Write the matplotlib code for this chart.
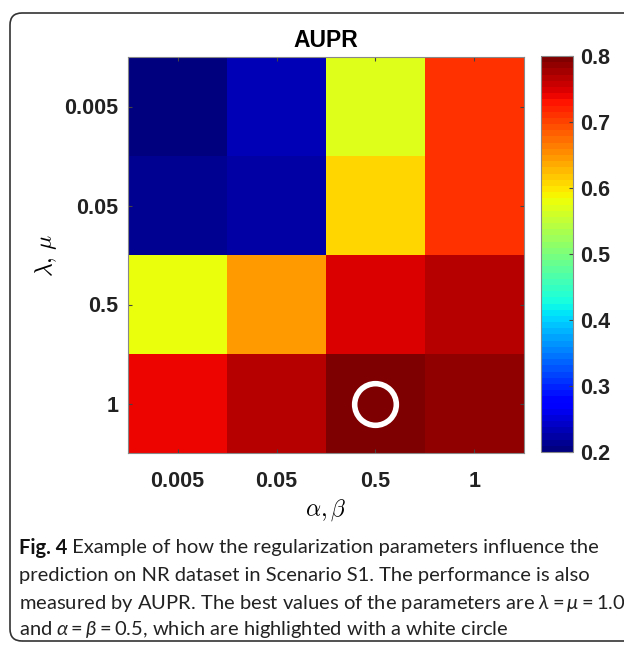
import matplotlib
matplotlib.use("Agg")
import matplotlib.pyplot as plt
from matplotlib.patches import FancyBboxPatch
from matplotlib.transforms import IdentityTransform
import numpy as np

# AUPR grid: rows = lambda, mu ; columns = alpha, beta
lam_labels = ['0.005', '0.05', '0.5', '1']
alpha_labels = ['0.005', '0.05', '0.5', '1']
aupr = np.array([
    [0.200, 0.231, 0.572, 0.714],
    [0.218, 0.222, 0.605, 0.714],
    [0.583, 0.644, 0.751, 0.769],
    [0.743, 0.769, 0.800, 0.786],
])
best = (2, 3)  # (column, row) of the white circle

caption = [
    ("Fig. 4", " Example of how the regularization parameters influence the"),
    ("", "prediction on NR dataset in Scenario S1. The performance is also"),
    ("", r"measured by AUPR. The best values of the parameters are $\lambda{=}\mu{=}1.0$"),
    ("", r"and $\alpha{=}\beta{=}0.5$, which are highlighted with a white circle"),
]

cap_font = 'Lato'
cap_size = 14.5
plt.rcParams['mathtext.fontset'] = 'custom'
plt.rcParams['mathtext.rm'] = cap_font
plt.rcParams['mathtext.it'] = cap_font + ':italic'

fig = plt.figure(figsize=(6.24, 6.45), dpi=100)

# rounded frame around figure + caption
frame = FancyBboxPatch((10, 4), 700, 628, boxstyle="round,pad=0,rounding_size=12",
                       transform=IdentityTransform(), fill=False,
                       edgecolor='#333333', linewidth=1.2)
fig.patches.append(frame)

ax = fig.add_axes([128/624, 1-453/645, 396/624, 396/645])
cmap = plt.get_cmap('jet', 64)
im = ax.imshow(aupr, cmap=cmap, vmin=0.2, vmax=0.8, aspect='auto',
               interpolation='nearest')
ax.plot(best[0], best[1], 'o', ms=30, mfc='none', mec='white', mew=4)

tick_font = dict(family='Liberation Sans', weight='bold', size=15.5)

ax.set_xticks(range(len(alpha_labels)))
ax.set_xticklabels(alpha_labels, **tick_font)
ax.set_yticks(range(len(lam_labels)))
ax.set_yticklabels(lam_labels, **tick_font)
ax.tick_params(direction='in', length=3, color='#444444', top=True, right=True,
               labelcolor='#222222')
ax.tick_params(axis='y', pad=7)
ax.tick_params(axis='x', pad=13)
for s in ax.spines.values():
    s.set_color('#888888')
    s.set_linewidth(0.8)

ax.set_title('AUPR', family='Liberation Sans', fontsize=16.5, fontweight='bold', pad=7)
ax.set_xlabel(r'$\alpha,\beta$', fontsize=17, math_fontfamily='cm', labelpad=4)
ax.set_ylabel(r'$\lambda,\,\mu$', fontsize=17, math_fontfamily='cm', labelpad=4)

cax = fig.add_axes([541/624, 1-452/645, 32/624, 396/645])
cb = fig.colorbar(im, cax=cax, ticks=[0.2, 0.3, 0.4, 0.5, 0.6, 0.7, 0.8])
cb.ax.tick_params(direction='in', length=3, color='#444444', pad=5,
                  labelcolor='#222222')
cb.ax.set_yticklabels(['0.2', '0.3', '0.4', '0.5', '0.6', '0.7', '0.8'], **tick_font)
cb.outline.set_edgecolor('#888888')
cb.outline.set_linewidth(0.8)

# caption
ys = [548, 576, 603, 630]
for (bold, rest), y in zip(caption, ys):
    yf = 1 - y/645
    if bold:
        t = fig.text(19/624, yf, bold, fontsize=cap_size, fontweight='bold',
                     family=cap_font, va='center', color='#111111')
        plt.annotate(rest, xy=(1, 0.5), xycoords=t, va='center', ha='left',
                     fontsize=cap_size, family=cap_font, color='#222222')
    else:
        fig.text(19/624, yf, rest, fontsize=cap_size, family=cap_font,
                 va='center', color='#222222')

fig.savefig('out.png', dpi=100)
